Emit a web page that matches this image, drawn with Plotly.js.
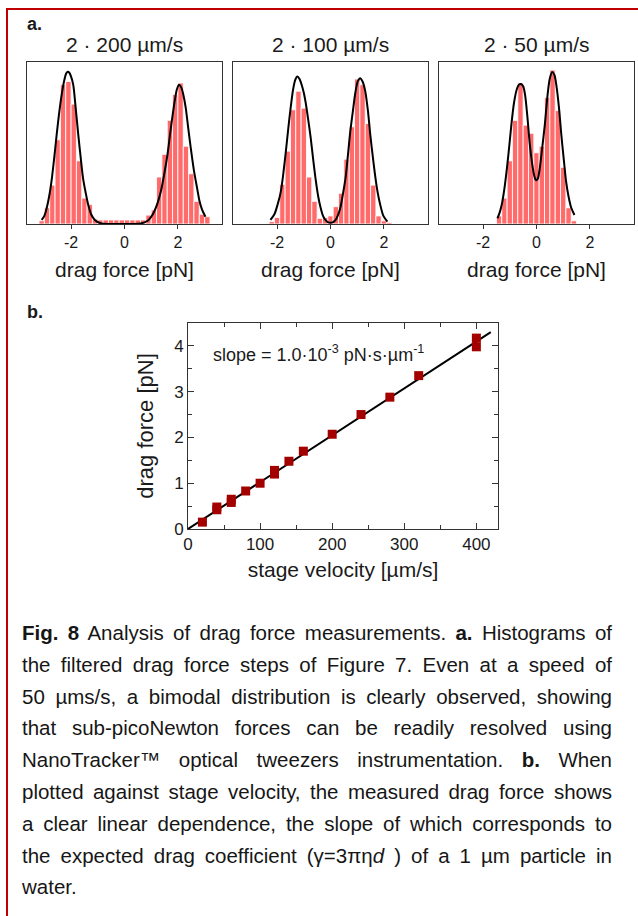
<!DOCTYPE html>
<html><head><meta charset="utf-8">
<script src="https://cdn.plot.ly/plotly-3.0.1.min.js"></script>
<style>
html,body{margin:0;padding:0;background:#fff;}
#wrap{position:relative;width:638px;height:916px;overflow:hidden;}
#chart{position:absolute;left:0;top:0;width:638px;height:916px;}
#caption{position:absolute;left:22px;top:617px;width:590px;font-family:'Liberation Sans',Arial,sans-serif;font-size:20.5px;line-height:31.8px;color:#161616;}
#caption div{text-align:justify;text-align-last:justify;}
#caption div.last{text-align:left;text-align-last:left;}
</style></head>
<body>
<div id="wrap"><div id="chart"></div>
<div id="caption">
<div><b>Fig. 8</b> Analysis of drag force measurements. <b>a.</b> Histograms of</div>
<div>the filtered drag force steps of Figure 7. Even at a speed of</div>
<div>50 µms/s, a bimodal distribution is clearly observed, showing</div>
<div>that sub-picoNewton forces can be readily resolved using</div>
<div>NanoTracker™ optical tweezers instrumentation. <b>b.</b> When</div>
<div>plotted against stage velocity, the measured drag force shows</div>
<div>a clear linear dependence, the slope of which corresponds to</div>
<div>the expected drag coefficient (γ=3πη<i>d</i> ) of a 1 µm particle in</div>
<div class="last">water.</div>
</div>
</div>
<script>
// ---------- data ----------
const panelTitles = ['2 · 200 µm/s', '2 · 100 µm/s', '2 · 50 µm/s'];
const histTickVals = [-2, 0, 2];
const histTickText = ['-2', '0', '2'];

const hist1Centers = [-3.1,-2.9,-2.7,-2.5,-2.3,-2.1,-1.9,-1.7,-1.5,-1.3,-1.1,-0.9,-0.7,-0.5,-0.3,-0.1,0.1,0.3,0.5,0.7,0.9,1.1,1.3,1.5,1.7,1.9,2.1,2.3,2.5,2.7,2.9,3.1];
const hist1Counts  = [2,10,24,52,86,88,74,39,16,12,3,2.5,2.5,2.5,2.5,2.5,2.5,2.5,2.5,2.5,5.5,8.7,29,43,64,80,87,48,31,14,6,4.5];

const hist2Centers = [-2.2,-2.0,-1.8,-1.6,-1.4,-1.2,-1.0,-0.8,-0.6,-0.4,-0.2,0.0,0.2,0.4,0.6,0.8,1.0,1.2,1.4,1.6,1.8,2.0,2.2];
const hist2Counts  = [1.5,4,24.5,45,70.5,82,71.5,29,14,3.5,4,5,10.7,19,40,60,89.5,86,62,24,5,2,1];

const hist3Centers = [-1.4,-1.2,-1.0,-0.8,-0.6,-0.4,-0.2,0.0,0.2,0.4,0.6,0.8,1.0,1.2,1.4];
const hist3Counts  = [5,16,39,64,87,61,56,44,48,78,95,70,35,10,2];

const fit1X = [-3.10,-3.00,-2.91,-2.80,-2.72,-2.63,-2.54,-2.45,-2.35,-2.25,-2.18,-2.13,-2.07,-2.00,-1.92,-1.83,-1.73,-1.64,-1.55,-1.45,-1.36,-1.25,-1.11,-0.90,-0.60,0.00,0.60,0.87,1.00,1.11,1.24,1.36,1.49,1.61,1.71,1.80,1.88,1.96,2.04,2.12,2.20,2.29,2.38,2.48,2.60,2.72,2.81,2.90,3.03];
const fit1Y = [2.5,5,10,19,28,41,55,68,80,89,93,94,93.5,91,86,72,55,41,28,19,12,6,2.5,0.5,0,0,0.3,2,4.5,7.6,13,20,31,43,56,67,76,83,86,84.5,80,72,60,47,33,22,14,9,4.5];

const fit2X = [-2.25,-2.10,-1.98,-1.86,-1.76,-1.67,-1.58,-1.49,-1.40,-1.32,-1.24,-1.16,-1.08,-1.00,-0.93,-0.84,-0.74,-0.65,-0.56,-0.46,-0.37,-0.28,-0.19,-0.10,0.00,0.10,0.19,0.28,0.37,0.46,0.56,0.65,0.74,0.84,0.93,1.02,1.11,1.20,1.30,1.40,1.49,1.58,1.67,1.76,1.86,1.98,2.13];
const fit2Y = [2.5,6,12,20,32,45,59,72,83,89,91,89.5,86,81,75,65,53,40,28,17,10,5,2.5,1.2,0.8,1.2,2.5,5.5,10,18,28,42,57,70,81,88,90,88,82,70,55,42,30,20,12,5,1.5];

const fit3X = [-1.46,-1.38,-1.30,-1.20,-1.11,-1.02,-0.93,-0.84,-0.74,-0.66,-0.58,-0.50,-0.43,-0.34,-0.25,-0.17,-0.10,-0.04,0.00,0.05,0.12,0.20,0.31,0.37,0.43,0.50,0.59,0.67,0.74,0.84,0.93,1.02,1.11,1.20,1.30,1.42];
const fit3Y = [3.5,7,12,22,34,48,63,75,83,86,86.4,85,80,66,49,38,31,27.5,27,28,34,45,61,72,82,90,93.8,92,86,72,55,40,26,17,10,5.6];

const velocity = [20,40,40,60,60,80,100,120,120,140,160,200,240,280,320,400,400];
const dragForce = [0.15,0.42,0.48,0.58,0.65,0.83,1.0,1.2,1.28,1.48,1.7,2.07,2.5,2.88,3.35,3.98,4.17];
const lineFitX = [0, 420];
const lineFitY = [0, 4.3];

// ---------- helpers ----------
const W = 638, H = 916;
const fx = p => p / W;
const fy = p => 1 - p / H;
const FONT = 'Liberation Sans, Arial, sans-serif';
const INK = '#1a1a1a';
const BAR = '#ff6a6a';

function barTrace(x, y, ax) {
  return {type:'bar', x:x, y:y, width:0.2, xaxis:'x'+ax, yaxis:'y'+ax,
    marker:{color:BAR, line:{color:'rgba(255,255,255,0.85)', width:1}}, hoverinfo:'skip', showlegend:false};
}
function fitTrace(x, y, ax) {
  return {type:'scatter', mode:'lines', x:x, y:y, xaxis:'x'+ax, yaxis:'y'+ax,
    line:{color:'#000', width:2, shape:'spline', smoothing:0.8}, hoverinfo:'skip', showlegend:false};
}

const data = [
  barTrace(hist1Centers, hist1Counts, ''), fitTrace(fit1X, fit1Y, ''),
  barTrace(hist2Centers, hist2Counts, '2'), fitTrace(fit2X, fit2Y, '2'),
  barTrace(hist3Centers, hist3Counts, '3'), fitTrace(fit3X, fit3Y, '3'),
  {type:'scatter', mode:'lines', x:lineFitX, y:lineFitY, xaxis:'x4', yaxis:'y4',
   line:{color:'#000', width:2}, showlegend:false, hoverinfo:'skip'},
  {type:'scatter', mode:'markers', x:velocity, y:dragForce, xaxis:'x4', yaxis:'y4',
   marker:{symbol:'square', size:9, color:'#a30000'}, showlegend:false}
];

function histX(d0, d1, anchor) {
  return {domain:[fx(d0), fx(d1)], anchor:anchor, range:[-3.65, 3.65], tickvals:histTickVals, ticktext:histTickText,
    ticks:'outside', ticklen:4, tickcolor:'#333', showline:true, linecolor:'#333', linewidth:1,
    mirror:true, showgrid:false, zeroline:false, tickfont:{family:FONT, size:16, color:INK},
    title:{text:'drag force [pN]', font:{family:FONT, size:21, color:INK}, standoff:12}};
}
function histY(anchor) {
  return {domain:[fy(224), fy(62)], anchor:anchor, range:[0, 100], showticklabels:false,
    ticks:'', showline:true, linecolor:'#333', linewidth:1, mirror:true, showgrid:false, zeroline:false};
}

const histCentersPx = [124.5, 330.5, 536.5];

const layout = {
  width:W, height:H, margin:{l:0, r:0, t:0, b:0},
  paper_bgcolor:'#fff', plot_bgcolor:'#fff', bargap:0, showlegend:false,
  font:{family:FONT, color:INK},
  xaxis: histX(27, 222, 'y'),   yaxis: histY('x'),
  xaxis2: histX(233, 428, 'y2'), yaxis2: histY('x2'),
  xaxis3: histX(439, 634, 'y3'), yaxis3: histY('x3'),
  xaxis4: {domain:[fx(188), fx(498)], anchor:'y4', range:[0, 430], tick0:0, dtick:100,
    ticks:'inside', ticklen:6, tickcolor:'#333', mirror:'ticks', showline:true, linecolor:'#333', linewidth:1,
    minor:{dtick:50, ticks:'inside', ticklen:4, tickcolor:'#333'},
    showgrid:false, zeroline:false, tickfont:{family:FONT, size:17, color:INK},
    title:{text:'stage velocity [µm/s]', font:{family:FONT, size:21, color:INK}, standoff:8}},
  yaxis4: {domain:[fy(529), fy(323)], anchor:'x4', range:[0, 4.5], tick0:0, dtick:1,
    ticks:'inside', ticklen:6, tickcolor:'#333', mirror:'ticks', showline:true, linecolor:'#333', linewidth:1,
    minor:{dtick:0.5, ticks:'inside', ticklen:4, tickcolor:'#333'},
    showgrid:false, zeroline:false, tickfont:{family:FONT, size:17, color:INK},
    title:{text:'drag force [pN]', font:{family:FONT, size:22, color:INK}, standoff:14}},
  annotations: [
    ...panelTitles.map((t, i) => ({text:t, xref:'paper', yref:'paper', x:fx(histCentersPx[i]), y:fy(45),
      xanchor:'center', yanchor:'middle', showarrow:false, font:{family:FONT, size:21, color:INK}})),
    {text:'<b>a.</b>', xref:'paper', yref:'paper', x:fx(25), y:fy(24), xanchor:'left', yanchor:'middle',
      showarrow:false, font:{family:FONT, size:18, color:INK}},
    {text:'<b>b.</b>', xref:'paper', yref:'paper', x:fx(25), y:fy(312), xanchor:'left', yanchor:'middle',
      showarrow:false, font:{family:FONT, size:18, color:INK}},
    {text:'slope = 1.0·10<sup>-3</sup> pN·s·µm<sup>-1</sup>', xref:'paper', yref:'paper', x:fx(211), y:fy(353),
      xanchor:'left', yanchor:'middle', showarrow:false, font:{family:FONT, size:18, color:INK}}
  ],
  shapes: [
    {type:'line', xref:'paper', yref:'paper', x0:fx(7), x1:fx(7), y0:0, y1:fy(8), line:{color:'#c00000', width:2}},
    {type:'line', xref:'paper', yref:'paper', x0:fx(6), x1:1, y0:fy(9), y1:fy(9), line:{color:'#c00000', width:2}}
  ]
};

Plotly.newPlot('chart', data, layout, {displayModeBar:false, staticPlot:true});
</script>
</body></html>
